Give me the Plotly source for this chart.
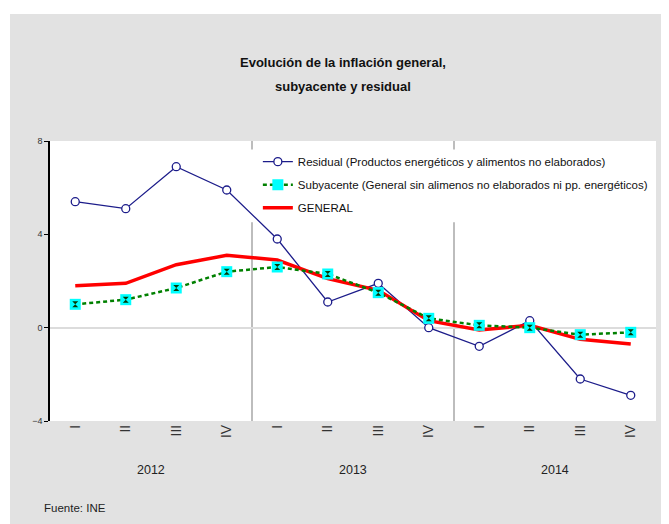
import plotly.graph_objects as go

# quarters 2012-I ... 2014-IV
quarters = ["I", "II", "III", "IV"] * 3
years = ["2012", "2013", "2014"]
residual = [5.4, 5.1, 6.9, 5.9, 3.8, 1.1, 1.9, 0.0, -0.8, 0.3, -2.2, -2.9]
subyacente = [1.0, 1.2, 1.7, 2.4, 2.6, 2.3, 1.5, 0.4, 0.1, 0.0, -0.3, -0.2]
general = [1.8, 1.9, 2.7, 3.1, 2.9, 2.1, 1.6, 0.3, -0.1, 0.1, -0.5, -0.7]
title_lines = ["Evolución de la inflación general,", "subyacente y residual"]

x = list(range(len(quarters)))
FONT = "Liberation Sans, Arial, sans-serif"
GRAY = "#e2e2e2"

fig = go.Figure()
fig.add_trace(go.Scatter(
    x=x, y=residual, mode="lines+markers", legendrank=1, legendgroup="a",
    name="Residual (Productos energéticos y alimentos no elaborados)",
    line=dict(color="#1c1c8a", width=1.3),
    marker=dict(symbol="circle", size=8, color="white",
                line=dict(color="#1c1c8a", width=1.3))))
fig.add_trace(go.Scatter(
    x=x, y=general, mode="lines", legendrank=3, legendgroup="c",
    name="GENERAL", line=dict(color="#ff0000", width=3.5)))
fig.add_trace(go.Scatter(
    x=x, y=subyacente, mode="lines+markers", legendrank=2, legendgroup="b",
    name="Subyacente (General sin alimenos no elaborados ni pp. energéticos)",
    line=dict(color="#008000", width=2.5, dash="4px,3px"),
    marker=dict(symbol="square", size=11, color="#00ffff", line=dict(width=0))))
fig.add_trace(go.Scatter(
    x=x, y=subyacente, mode="markers", showlegend=False, legendgroup="b",
    marker=dict(symbol="hourglass", size=6, color="#063806", line=dict(width=0))))

# separators between years
for xs in [3.5, 7.5]:
    fig.add_shape(type="line", xref="x", yref="paper", x0=xs, x1=xs, y0=0, y1=1,
                  line=dict(color="#bdbdbd", width=2), layer="below")
# white box behind the legend (inside the plot area)
fig.add_shape(type="rect", xref="x", yref="paper", x0=3.47, x1=11.5, y0=0.71, y1=0.97,
              fillcolor="white", line_width=0, layer="below")

# white strips around the gray panel
fig.add_shape(type="rect", xref="paper", yref="paper", x0=-0.2, x1=-0.066,
              y0=-0.5, y1=1.6, fillcolor="white", line_width=0, layer="below")
fig.add_shape(type="rect", xref="paper", yref="paper", x0=-0.2, x1=1.2,
              y0=1.4536, y1=1.6, fillcolor="white", line_width=0, layer="below")

for line, yy in zip(title_lines, [1.282, 1.196]):
    fig.add_annotation(text="<b>" + line + "</b>",
                       xref="paper", yref="paper", x=0.4835, y=yy,
                       xanchor="center", yanchor="middle", showarrow=False,
                       font=dict(family=FONT, size=13, color="#111111"))
for i, yr in enumerate(years):
    fig.add_annotation(text=yr, xref="x", yref="paper", x=4 * i + 1.5, y=-0.175,
                       xanchor="center", yanchor="middle", showarrow=False,
                       font=dict(family=FONT, size=12.5, color="#222222"))
fig.add_annotation(text="Fuente: INE", xref="paper", yref="paper", x=-0.0132, y=-0.3107,
                   xanchor="left", yanchor="middle", showarrow=False,
                   font=dict(family=FONT, size=11.5, color="#222222"))

fig.update_layout(
    width=661, height=516,
    margin=dict(l=42, r=13, t=133, b=103),
    paper_bgcolor=GRAY, plot_bgcolor="white",
    font=dict(family=FONT, color="#222222"),
    showlegend=True,
    legend=dict(x=0.343, y=0.978, xanchor="left", yanchor="top",
                bgcolor="rgba(0,0,0,0)", borderwidth=0, tracegroupgap=4,
                font=dict(family=FONT, size=11.5, color="#111111")),
    xaxis=dict(range=[-0.5, 11.5], tickmode="array", tickvals=x, ticktext=quarters,
               tickangle=-90, showgrid=False, zeroline=False, showline=False,
               ticks="", tickfont=dict(size=14, color="#333333")),
    yaxis=dict(range=[-4, 8], dtick=4, showgrid=False, zeroline=True,
               zerolinecolor="#dcdcdc", zerolinewidth=1.5,
               showline=True, linecolor="black", linewidth=1.5,
               ticks="outside", ticklen=4, tickcolor="black",
               tickfont=dict(size=9, color="#333333")),
)

fig.write_html("out.html")
